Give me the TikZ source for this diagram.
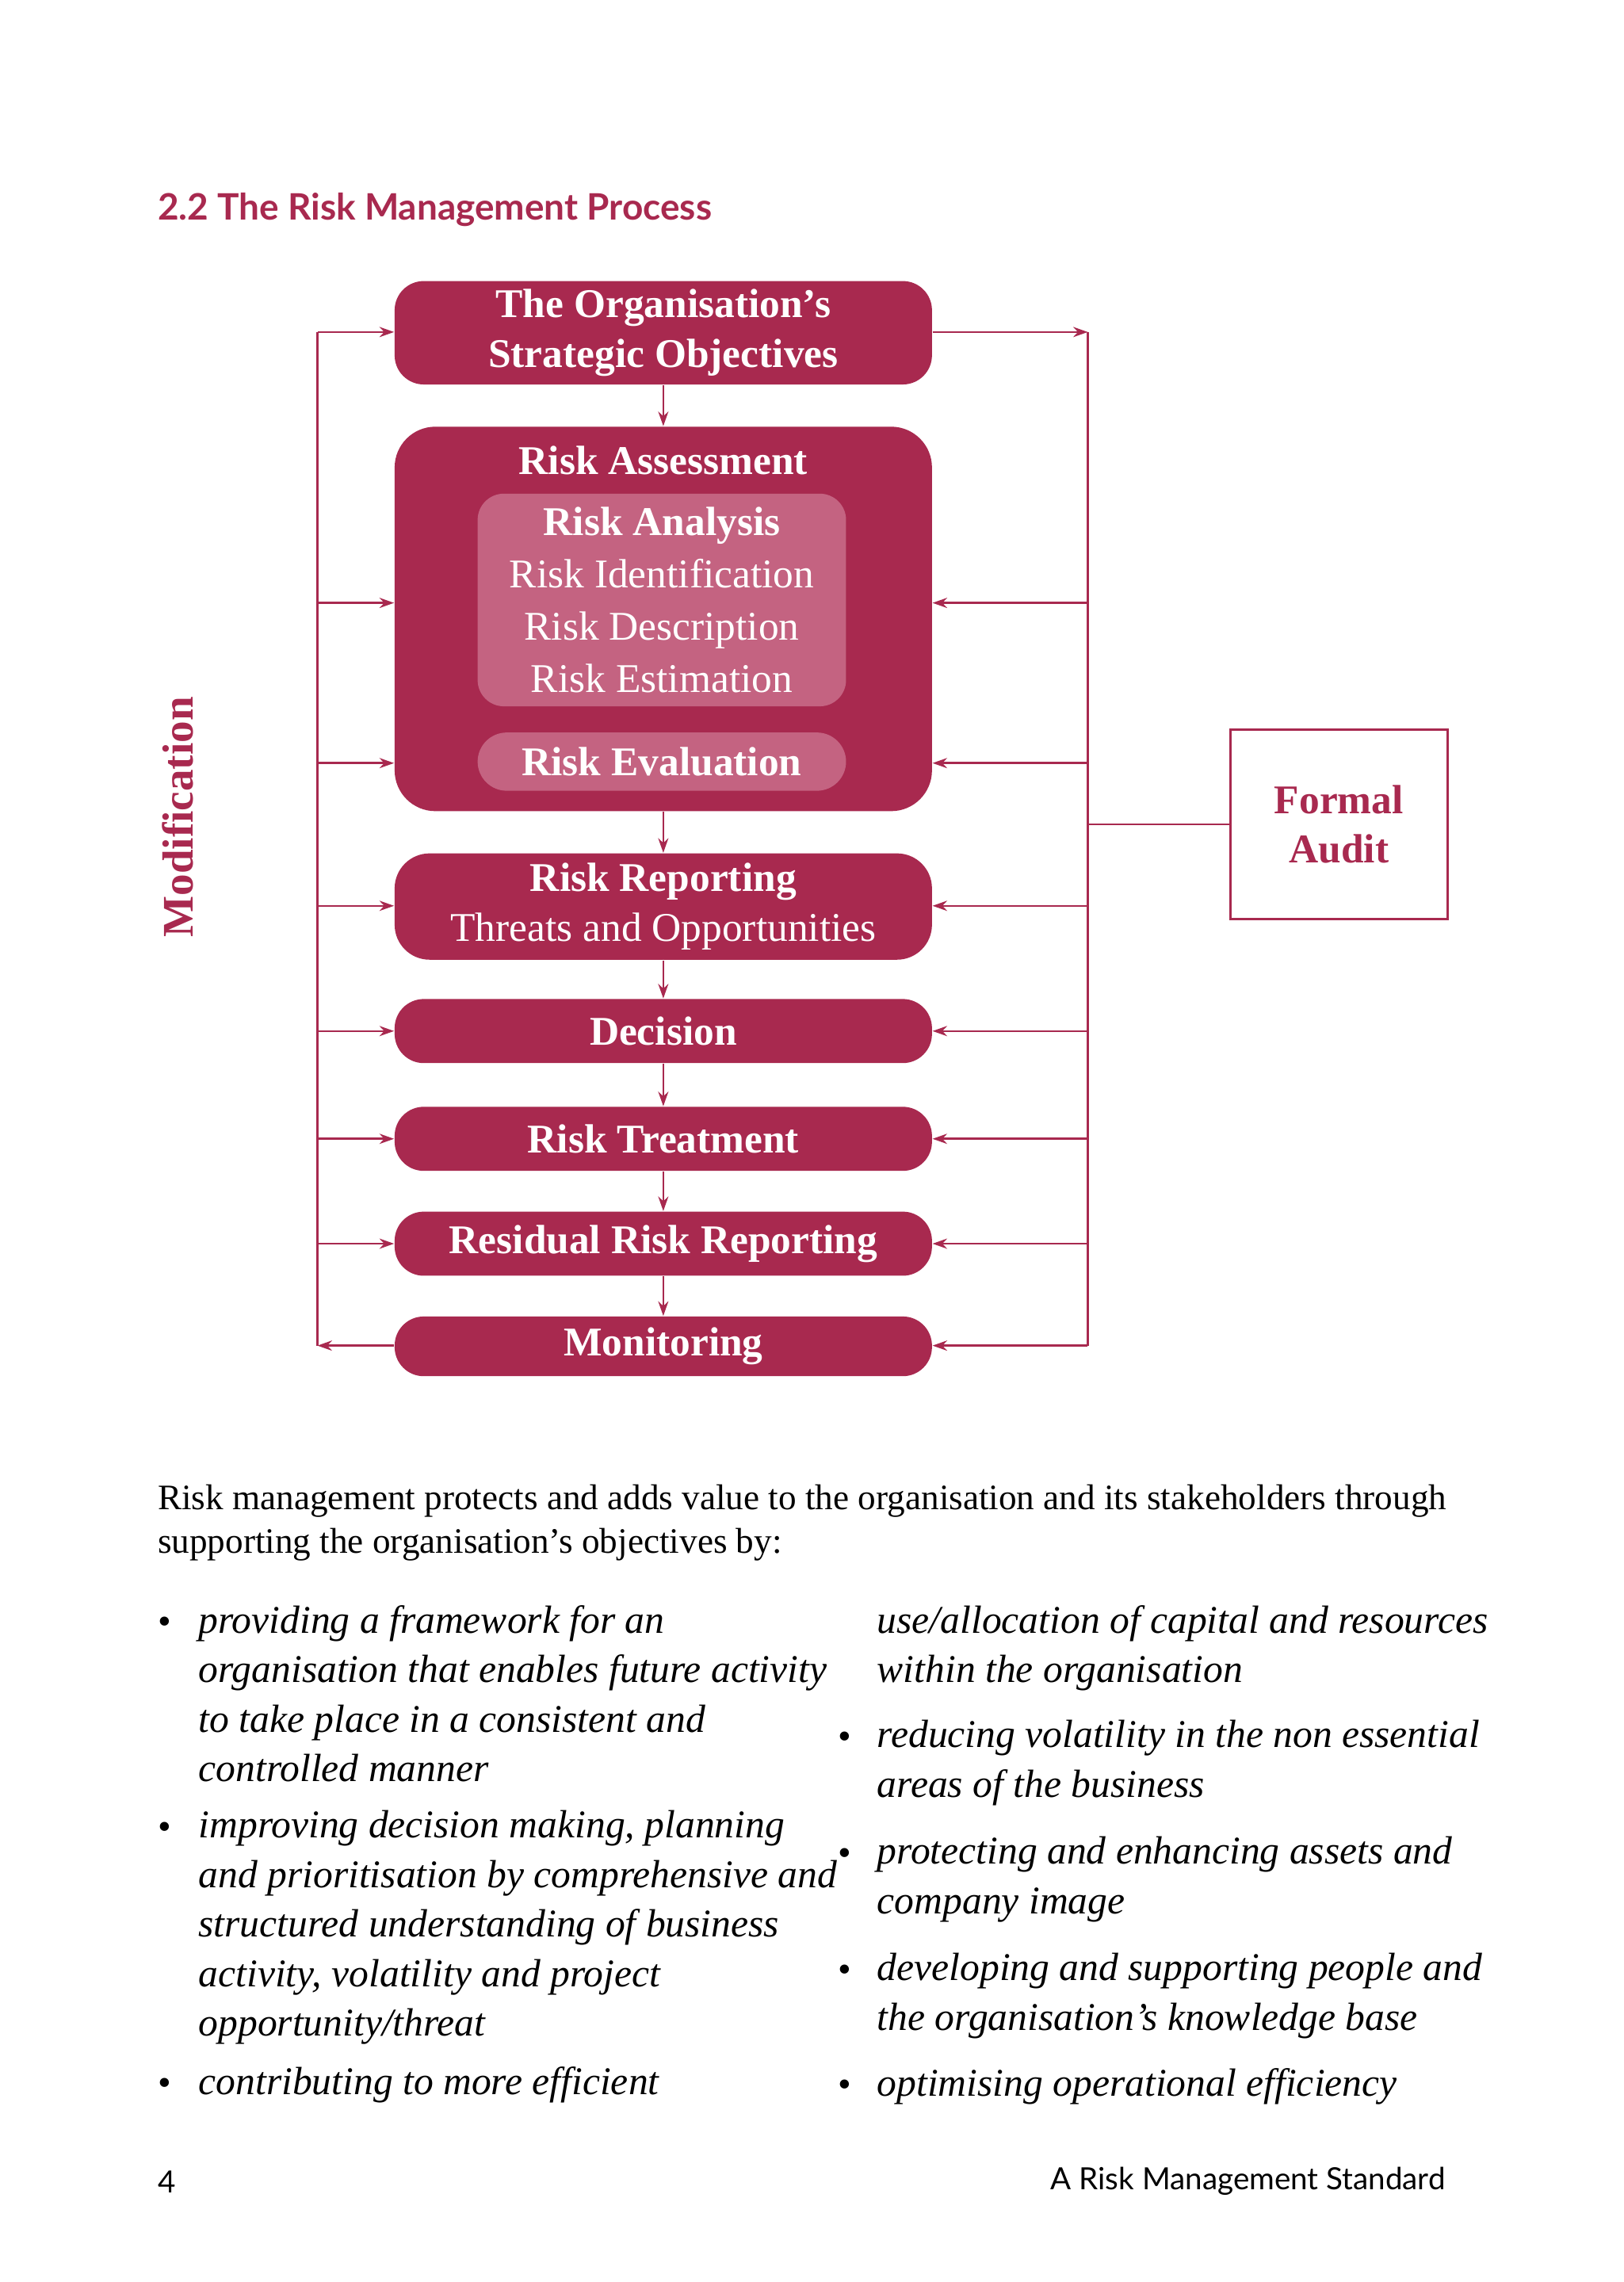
\documentclass[tikz,border=0pt]{standalone}
\usepackage{fontspec}
\setmainfont{Liberation Serif}
\setsansfont{Lato}
\usetikzlibrary{arrows.meta}
\definecolor{crim}{HTML}{A8294F}
\definecolor{crimlight}{HTML}{C46381}
\begin{document}
\begin{tikzpicture}[x=0.5pt,y=-0.5pt,
  box/.style={fill=crim,rounded corners=10pt,text=white,font=\bfseries\fontsize{14}{17}\selectfont,minimum width=184.5pt,align=center,inner sep=0pt},
  ibox/.style={fill=crimlight,rounded corners=9pt,text=white,minimum width=126.5pt,align=center,inner sep=0pt},
  ln/.style={crim,line width=0.7pt},
  ar/.style={ln,-{Stealth[length=5pt,width=3.5pt]}},
  body/.style={anchor=north west,align=left,font=\itshape\fontsize{13.5}{17}\selectfont,inner sep=0pt}]
\useasboundingbox (0,0) rectangle (1115,1567);
\node[anchor=west,crim,font=\sffamily\bfseries\fontsize{12.5}{15}\selectfont,inner sep=0pt] (title) at (108,144) {2.2 The Risk Management Process};
% boxes
\node[box,minimum height=35.5pt] (obj) at (455.5,228.5) {The Organisation’s\\Strategic Objectives};
\node[box,minimum height=132pt,rounded corners=14pt] (ass) at (455.5,425) {};
\node[text=white,font=\bfseries\fontsize{14}{17}\selectfont] (asst) at (455.5,316) {Risk Assessment};
\node[ibox,minimum height=73pt] (ana) at (454.5,412) {};
\node[text=white,align=center,inner sep=0pt,font=\fontsize{14}{18}\selectfont] (anat) at (454.5,412) {{\bfseries Risk Analysis}\\Risk Identification\\Risk Description\\Risk Estimation};
\node[ibox,minimum height=20pt,rounded corners=10pt,font=\bfseries\fontsize{14}{17}\selectfont] (eva) at (454.5,523) {Risk Evaluation};
\node[box,minimum height=36.5pt,rounded corners=12pt] (rep) at (455.5,622.5) {Risk Reporting\\\mdseries Threats and Opportunities};
\node[box,minimum height=22pt] (dec) at (455.5,708) {Decision};
\node[box,minimum height=22pt] (tre) at (455.5,782) {Risk Treatment};
\node[box,minimum height=22pt] (res) at (455.5,854) {Residual Risk Reporting};
\node[box,minimum height=20.5pt] (mon) at (455.5,924.5) {Monitoring};
% vertical arrows
\foreach \a/\b in {obj/ass,ass/rep,rep/dec,dec/tre,tre/res,res/mon}
  \draw[ar] (\a.south) -- (\b.north);
% left side
\coordinate (lt) at (218,228);
\coordinate (lb) at (218,924);
\draw[ln] (lt) -- (lb);
\foreach \y/\n in {228/obj,414/ass,524/ass,622/rep,708/dec,782/tre,854/res}
  \draw[ar] (218,\y) -- (\n.west|-0,\y);
\draw[ar] (mon.west|-lb) -- (lb);
% right side
\coordinate (rt) at (747,228);
\coordinate (rb) at (747,924);
\draw[ln] (rt) -- (rb);
\draw[ar] (obj.east|-rt) -- (rt);
\foreach \y/\n in {414/ass,524/ass,622/rep,708/dec,782/tre,854/res,924/mon}
  \draw[ar] (747,\y) -- (\n.east|-0,\y);
\node[draw=crim,line width=0.8pt,minimum width=74.5pt,minimum height=65pt,text=crim,font=\bfseries\fontsize{14}{17}\selectfont,align=center] (aud) at (919.5,566) {Formal\\Audit};
\coordinate (ra) at (747,566);
\draw[ln] (ra) -- (aud.west);
\node[rotate=90,text=crim,font=\bfseries\fontsize{15}{18}\selectfont] (mod) at (122,561) {Modification};
% text
\node[body,font=\fontsize{12.3}{15}\selectfont] (p) at (108,1019) {Risk management protects and adds value to the organisation and its stakeholders through\\supporting the organisation’s objectives by:};
\node[body] (l1) at (136,1102) {providing a framework for an\\organisation that enables future activity\\to take place in a consistent and\\controlled manner};
\node[body] (l2) at (136,1243) {improving decision making, planning\\and prioritisation by comprehensive and\\structured understanding of business\\activity, volatility and project\\opportunity/threat};
\node[body] (l3) at (136,1419) {contributing to more efficient};
\node[body] (r0) at (602,1102) {use/allocation of capital and resources\\within the organisation};
\node[body] (r1) at (602,1181) {reducing volatility in the non essential\\areas of the business};
\node[body] (r2) at (602,1261) {protecting and enhancing assets and\\company image};
\node[body] (r3) at (602,1341) {developing and supporting people and\\the organisation’s knowledge base};
\node[body] (r4) at (602,1420) {optimising operational efficiency};
\foreach \x/\y/\n in {113/1116/b1,113/1257/b2,113/1433/b3,580/1195/b4,580/1275/b5,580/1355/b6,580/1434/b7}
  \node[font=\fontsize{13}{15}\selectfont,inner sep=0pt] (\n) at (\x,\y) {•};
\node[anchor=west,inner sep=0pt,font=\sffamily\fontsize{10.5}{12}\selectfont] (pg) at (108,1498) {4};
\node[anchor=east,inner sep=0pt,font=\sffamily\fontsize{10.5}{12}\selectfont] (ft) at (993,1498) {A Risk Management Standard};
\end{tikzpicture}
\end{document}
